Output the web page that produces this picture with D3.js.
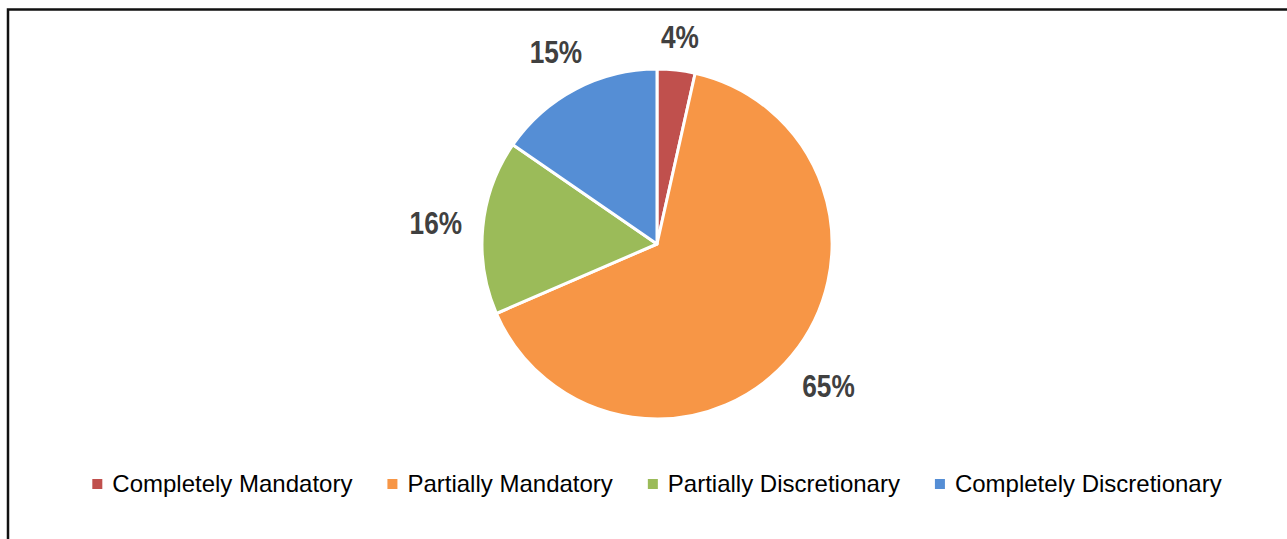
<!DOCTYPE html>
<html>
<head>
<meta charset="utf-8">
<script src="https://cdn.jsdelivr.net/npm/d3@7"></script>
<style>
  html, body { margin: 0; padding: 0; background: #fff; }
  #graphicContainer { width: 1287px; height: 539px; }
</style>
</head>
<body>
<div id="graphicContainer"></div>
<script>

// values (percent of total)
var categories = ["Completely Mandatory", "Partially Mandatory", "Partially Discretionary", "Completely Discretionary"];
var shares = [3.5, 65.0, 16.1, 15.4];
var shareLabels = ["4%", "65%", "16%", "15%"];
var colours = ["#C0504D", "#F79646", "#9BBB59", "#558ED5"];

var w = 1287, h = 539;
var cx = 657, cy = 244, radius = 175;

var svg = d3.select("#graphicContainer").append("svg")
    .attr("width", w)
    .attr("height", h);

// frame, only top and left sides show in the crop
svg.append("path")
    .attr("d", "M8," + h + "V9.5H" + w)
    .attr("fill", "none")
    .attr("stroke", "#111")
    .attr("stroke-width", 2.5);

var pie = d3.pie().sort(null).value(function(d) { return d; });
var arc = d3.arc().innerRadius(0).outerRadius(radius);
var arcs = pie(shares);

var g = svg.append("g")
    .attr("transform", "translate(" + cx + "," + cy + ")");

g.selectAll("path.slice")
    .data(arcs)
  .enter().append("path")
    .attr("class", "slice")
    .attr("d", arc)
    .attr("fill", function(d, i) { return colours[i]; })
    .attr("stroke", "#fff")
    .attr("stroke-width", 3)
    .attr("stroke-linejoin", "round");

// outside end labels: condensed bold, pushed just clear of the rim
var labelSize = 32, gap = 20, squeeze = 0.82;

var lbl = g.selectAll("text.pct")
    .data(arcs)
  .enter().append("text")
    .attr("class", "pct")
    .attr("text-anchor", "middle")
    .style("font-family", "'Liberation Sans', Arial, sans-serif")
    .style("font-weight", "bold")
    .style("font-size", labelSize + "px")
    .style("fill", "#404040")
    .text(function(d, i) { return shareLabels[i]; });

lbl.each(function(d) {
    var half = this.getComputedTextLength() * squeeze / 2;
    var halfH = labelSize * 0.36;
    var a = (d.startAngle + d.endAngle) / 2;
    var sx = Math.sin(a), sy = -Math.cos(a);
    var r = radius + gap + half * Math.abs(sx) + halfH * Math.abs(sy);
    d3.select(this)
      .attr("transform", "translate(" + (sx * r) + "," + (sy * r + halfH) + ") scale(" + squeeze + ",1)");
});

// legend along the bottom, centred under the pie
var legend = svg.append("g").attr("class", "legend");
var legendSize = 24, boxSize = 10, boxGap = 10, itemGap = 35;
var legendBase = 492;

var items = legend.selectAll("g.item")
    .data(categories)
  .enter().append("g")
    .attr("class", "item");

items.append("rect")
    .attr("width", boxSize)
    .attr("height", boxSize)
    .attr("y", legendBase - 8 - boxSize / 2)
    .attr("fill", function(d, i) { return colours[i]; });

items.append("text")
    .attr("y", legendBase)
    .attr("x", boxSize + boxGap)
    .style("font-family", "'Liberation Sans', Arial, sans-serif")
    .style("font-size", legendSize + "px")
    .style("fill", "#000")
    .text(function(d) { return d; });

var widths = [];
items.select("text").each(function() { widths.push(this.getComputedTextLength()); });

var total = d3.sum(widths) + categories.length * (boxSize + boxGap) + (categories.length - 1) * itemGap;
var xPos = cx - total / 2;

items.attr("transform", function(d, i) {
    var t = "translate(" + xPos + ",0)";
    xPos += boxSize + boxGap + widths[i] + itemGap;
    return t;
});

</script>
</body>
</html>
